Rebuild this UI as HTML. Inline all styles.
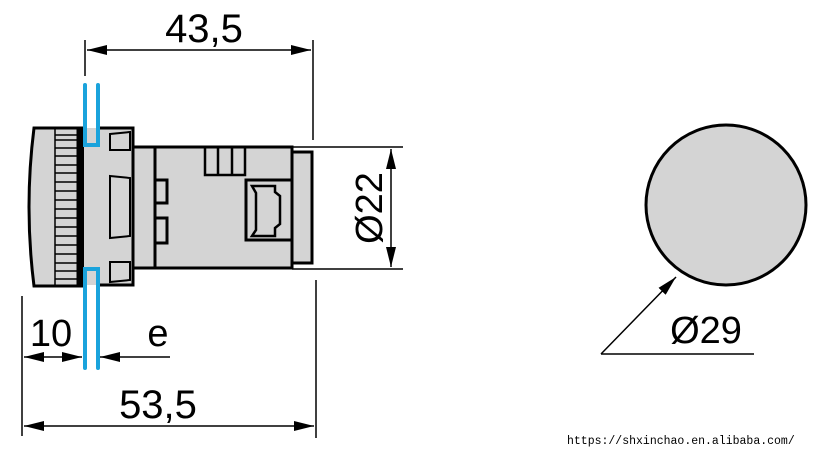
<!DOCTYPE html>
<html><head><style>
html,body{margin:0;padding:0;background:#fff;}
svg{display:block;}
text{font-family:"Liberation Sans",sans-serif;fill:#000;}
</style></head><body>
<svg width="817" height="450" viewBox="0 0 817 450" xmlns="http://www.w3.org/2000/svg">
<defs>
<marker id="a" viewBox="0 0 20 10" refX="20" refY="5" markerWidth="20" markerHeight="10" markerUnits="userSpaceOnUse" orient="auto-start-reverse"><path d="M0,0 L20,5 L0,10 Z" fill="#000"/></marker>
</defs>
<g fill="#d4d4d4" stroke="#000" stroke-width="3">
<path d="M34,128 L80,128 L80,286 L34,286 Q24,207 34,128 Z"/>
<rect x="78" y="128" width="6" height="158" fill="#000"/>
<rect x="84" y="128" width="49" height="157" stroke="none"/>
<path d="M100,128 L133,128 L133,285 L100,285" fill="none"/>
<path d="M110,134 L130,132 L130,150 L110,150 Z M110,176 L130,178 L130,236 L110,238 Z M110,262 L130,262 L130,280 L110,282 Z" fill="none" stroke-width="2"/>
<rect x="133" y="147" width="159" height="121"/>
<line x1="155" y1="147" x2="155" y2="268"/>
<path d="M205,147 V175 H245 V147 M218,147 V175 M232,147 V175" fill="none" stroke-width="2.5"/>
<path d="M155,180 H167 V203 H155 M155,218 H167 V243 H155" fill="none"/>
<path d="M292,180 H246 V240 H292" fill="none"/>
<path d="M252,186 L256,193 V230 L252,236 H275 V228 L280,224 V196 L275,192 V186 Z" fill="none" stroke-width="2.5"/>
<rect x="292" y="152" width="20" height="111"/>
</g>
<g stroke="#000" stroke-width="1.5">
<line x1="55" y1="128" x2="55" y2="286"/>
<path d="M55,135H77M55,140H77M55,148H77M55,156H77M55,165H77M55,173H77M55,182H77M55,191H77M55,200H77M55,209H77M55,218H77M55,227H77M55,236H77M55,245H77M55,254H77M55,263H77M55,271H77M55,279H77"/>
</g>
<g stroke="#1aa3dc" stroke-width="4" fill="none" stroke-linecap="round">
<path d="M85,85 V145 H98 V85"/>
<path d="M85,368 V269 H98 V368"/>
</g>
<g stroke="#000" stroke-width="1.5" fill="none">
<line x1="85" y1="40" x2="85" y2="76"/>
<line x1="313" y1="40" x2="313" y2="140"/>
<line x1="87" y1="50" x2="311" y2="50" marker-start="url(#a)" marker-end="url(#a)"/>
<line x1="292" y1="147" x2="403" y2="147"/>
<line x1="292" y1="269" x2="403" y2="269"/>
<line x1="391" y1="149" x2="391" y2="267" marker-start="url(#a)" marker-end="url(#a)"/>
<line x1="316" y1="280" x2="316" y2="438"/>
<line x1="22" y1="296" x2="22" y2="436"/>
<line x1="24" y1="426" x2="314" y2="426" marker-start="url(#a)" marker-end="url(#a)"/>
<line x1="24" y1="357" x2="82" y2="357" marker-start="url(#a)" marker-end="url(#a)"/>
<line x1="170" y1="357" x2="100" y2="357" marker-end="url(#a)"/>
<line x1="601" y1="354" x2="754" y2="354"/>
<line x1="601" y1="354" x2="676" y2="277" marker-end="url(#a)"/>
</g>
<circle cx="726" cy="205" r="80" fill="#d4d4d4" stroke="#000" stroke-width="3"/>
<text x="204" y="42" font-size="40" text-anchor="middle">43,5</text>
<text x="158" y="418" font-size="40" text-anchor="middle">53,5</text>
<text x="51" y="346" font-size="38" text-anchor="middle">10</text>
<text x="158" y="346" font-size="38" text-anchor="middle">e</text>
<text x="706" y="343" font-size="38" text-anchor="middle">Ø29</text>
<text transform="translate(382,208) rotate(-90)" font-size="38" text-anchor="middle">Ø22</text>
<text x="567" y="444" font-size="11.5" style="font-family:'Liberation Mono',monospace" fill="#222">https://shxinchao.en.alibaba.com/</text>
</svg>
</body></html>
